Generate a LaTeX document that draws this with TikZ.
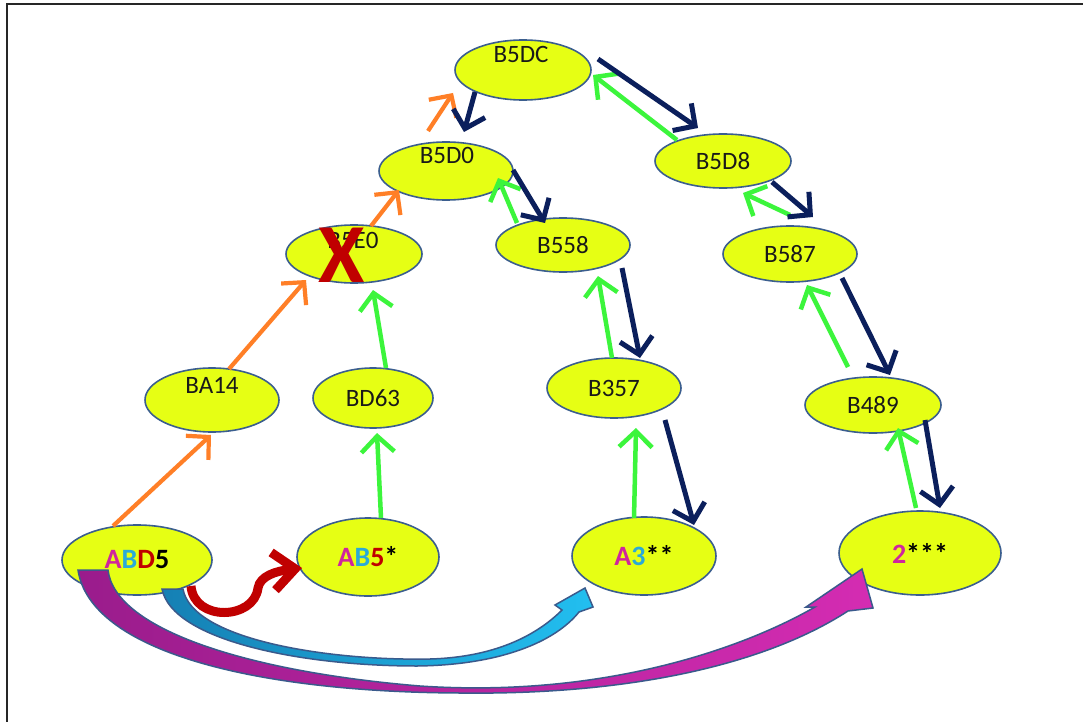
\documentclass[tikz,border=0pt]{standalone}
\usepackage{fontspec}
\setmainfont{Carlito}
\usetikzlibrary{arrows.meta,shapes.geometric}
\definecolor{nodefill}{HTML}{E6FF14}
\definecolor{nodeline}{HTML}{3B5E8E}
\definecolor{orangearr}{HTML}{FF7F27}
\definecolor{greenarr}{HTML}{3CF53C}
\definecolor{navyarr}{HTML}{0B1F5C}
\definecolor{redarr}{HTML}{C00000}
\definecolor{txtmag}{HTML}{D0259E}
\definecolor{txtcyan}{HTML}{2AAAD8}
\definecolor{bandline}{HTML}{3A5A8C}
\definecolor{purpleA}{HTML}{9A1C8C}
\definecolor{magentaB}{HTML}{D42CB2}
\definecolor{blueA}{HTML}{1580B4}
\definecolor{cyanB}{HTML}{22BFF0}
\begin{document}
\begin{tikzpicture}[x=1pt,y=-1pt,
  state/.style={ellipse, draw=nodeline, line width=1.6pt, fill=nodefill, inner sep=0pt,
                font=\fontsize{25}{30}\selectfont, text=black!90},
  lbl/.style={font=\fontsize{25}{30}\selectfont, text=black!90, inner sep=0pt},
  bigtxt/.style={font=\bfseries\fontsize{28}{32}\selectfont},
  flowarr/.style={line width=4.2pt, -{Straight Barb[length=16pt,width=33pt]}},
  orangeflow/.style={flowarr, draw=orangearr},
  greenflow/.style={flowarr, draw=greenarr, line width=4.5pt},
  navyflow/.style={flowarr, draw=navyarr, line width=5pt},
  band/.style={draw=bandline, line width=1.5pt},
]
\useasboundingbox (0,0) rectangle (1083,722);
\fill[white] (0,0) rectangle (1083,722);
% frame on the top and left edges
\draw[line width=2pt, black!85] (6.5,722) -- (6.5,4.5) -- (1083,4.5);

% states
\node[state, minimum width=136pt, minimum height=60pt] (b5dc) at (523,70) {};
\node[lbl] (b5dct) at (521,54) {B5DC};
\node[state, minimum width=134pt, minimum height=58pt] (b5d0) at (446,171) {};
\node[lbl] (b5d0t) at (447,155) {B5D0};
\node[state, minimum width=136pt, minimum height=58pt] (b5e0) at (354,254) {};
\node[lbl] (b5e0t) at (353,240) {B5E0};
\node[state, minimum width=134pt, minimum height=54pt] (b558) at (563,245) {B558};
\node[state, minimum width=136pt, minimum height=54pt] (b5d8) at (723,161) {B5D8};
\node[state, minimum width=134pt, minimum height=56pt] (b587) at (790,254) {B587};
\node[state, minimum width=134pt, minimum height=64pt] (ba14) at (212,400) {};
\node[lbl] (ba14t) at (212,385) {BA14};
\node[state, minimum width=120pt, minimum height=60pt] (bd63) at (373,398) {BD63};
\node[state, minimum width=134pt, minimum height=60pt] (b357) at (614,388) {B357};
\node[state, minimum width=136pt, minimum height=56pt] (b489) at (873,405) {B489};
\node[state, bigtxt, minimum width=150pt, minimum height=70pt] (abd5) at (137,560)
  {\textcolor{txtmag}{A}\textcolor{txtcyan}{B}\textcolor{redarr}{D}\textcolor{black}{5}};
\node[state, bigtxt, minimum width=142pt, minimum height=78pt] (ab5) at (368,557)
  {\textcolor{txtmag}{A}\textcolor{txtcyan}{B}\textcolor{redarr}{5}\textcolor{black}{*}};
\node[state, bigtxt, minimum width=144pt, minimum height=78pt] (a3) at (644,556)
  {\textcolor{txtmag}{A}\textcolor{txtcyan}{3}\textcolor{black}{**}};
\node[state, bigtxt, minimum width=162pt, minimum height=84pt] (two) at (920,553)
  {\textcolor{txtmag}{2}\textcolor{black}{***}};

% cross over B5E0
\node[text=redarr, font=\bfseries\fontsize{84}{84}\selectfont, inner sep=0pt] (cross) at (342,255) {X};

% orange path
\draw[orangeflow] ([shift={(-24,-34)}]abd5.center) -- ([shift={(-1,35)}]ba14.center);
\draw[orangeflow] ([shift={(17,-31)}]ba14.center) -- ([shift={(-48,26)}]b5e0.center);
\draw[orangeflow] ([shift={(17,-28)}]b5e0.center) -- ([shift={(-47,19)}]b5d0.center);
\draw[orangeflow] ([shift={(-18,-40)}]b5d0.center) -- ([shift={(-70,23)}]b5dc.center);

% green (upward) links
\draw[greenflow] ([shift={(13,-39)}]ab5.center) -- ([shift={(4,35)}]bd63.center);
\draw[greenflow] ([shift={(13,-30)}]bd63.center) -- ([shift={(19,36)}]b5e0.center);
\draw[greenflow] ([shift={(-46,-22)}]b558.center) -- ([shift={(52,7)}]b5d0.center);
\draw[greenflow] ([shift={(-2,-30)}]b357.center) -- ([shift={(35,31)}]b558.center);
\draw[greenflow] ([shift={(-10,-38)}]a3.center) -- ([shift={(22,40)}]b357.center);
\draw[greenflow] ([shift={(-46,-21)}]b5d8.center) -- ([shift={(70,5)}]b5dc.center);
\draw[greenflow] ([shift={(0,-39)}]b587.center) -- ([shift={(20,32)}]b5d8.center);
\draw[greenflow] ([shift={(-25,-38)}]b489.center) -- ([shift={(17,31)}]b587.center);
\draw[greenflow] ([shift={(-4,-45)}]two.center) -- ([shift={(25,23)}]b489.center);

% navy (downward) links
\draw[navyflow] ([shift={(-48,22)}]b5dc.center) -- ([shift={(18,-39)}]b5d0.center);
\draw[navyflow] ([shift={(67,-1)}]b5d0.center) -- ([shift={(-18,-22)}]b558.center);
\draw[navyflow] ([shift={(59,23)}]b558.center) -- ([shift={(26,-30)}]b357.center);
\draw[navyflow] ([shift={(51,32)}]b357.center) -- ([shift={(50,-31)}]a3.center);
\draw[navyflow] ([shift={(75,-11)}]b5dc.center) -- ([shift={(-25,-33)}]b5d8.center);
\draw[navyflow] ([shift={(49,21)}]b5d8.center) -- ([shift={(23,-37)}]b587.center);
\draw[navyflow] ([shift={(52,24)}]b587.center) -- ([shift={(17,-30)}]b489.center);
\draw[navyflow] ([shift={(52,15)}]b489.center) -- ([shift={(20,-45)}]two.center);

% curved block arrow to 2***
\shadedraw[band, left color=purpleA, right color=magentaB]
  (78,570) -- (108,570)
  .. controls (115,630) and (250,672) .. (420,686)
  .. controls (600,698) and (740,650) .. (815,607)
  -- (806,607) -- (862,569) -- (873,608) -- (848,611)
  .. controls (760,668) and (620,695) .. (460,693)
  .. controls (250,692) and (90,650) .. (78,570) -- cycle;

% curved block arrow to A3**
\shadedraw[band, left color=blueA, right color=cyanB]
  (162,589) -- (183,589)
  .. controls (192,640) and (330,661) .. (430,659)
  .. controls (500,657) and (540,632) .. (562,610)
  -- (555,605) -- (585,588) -- (593,607) -- (579,612)
  .. controls (555,642) and (500,665) .. (417,666)
  .. controls (300,666) and (172,640) .. (162,589) -- cycle;

% hooked red arrow to AB5*
\draw[redarr, line width=9pt, -{Straight Barb[length=22pt,width=38pt]}]
  ([shift={(54,26)}]abd5.center)
  .. controls (194,622) and (254,620) .. (258,588)
  .. controls (260,576) and (276,571) .. ([shift={(-66,11)}]ab5.center);
\end{tikzpicture}
\end{document}
